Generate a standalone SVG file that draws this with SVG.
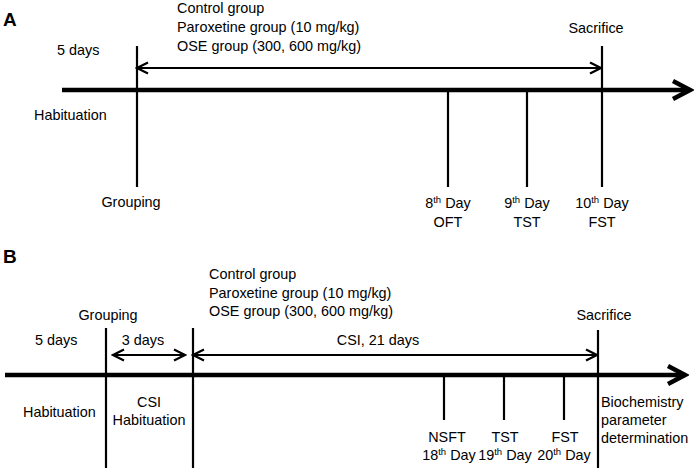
<svg xmlns="http://www.w3.org/2000/svg" width="694" height="472" viewBox="0 0 694 472">
<defs>
<style>
text{font-family:"Liberation Sans",Arial,sans-serif;font-size:14.4px;fill:#000}
.lbl{font-weight:bold;font-size:19px}
.m{text-anchor:middle}
.axis{stroke:#000;stroke-width:4.5;fill:none}
.tick{stroke:#000;stroke-width:2.2;fill:none}
.span{stroke:#000;stroke-width:2.2;fill:none}
.sup{font-size:9.5px}
</style>
<marker id="ah" viewBox="0 0 14 14" refX="12" refY="7" markerWidth="14" markerHeight="14" markerUnits="userSpaceOnUse" orient="auto-start-reverse">
<path d="M1,1.5 L12,7 L1,12.5" fill="none" stroke="#000" stroke-width="2.2"/>
</marker>
<marker id="big" viewBox="0 0 24 24" refX="20" refY="12" markerWidth="24" markerHeight="24" markerUnits="userSpaceOnUse" orient="auto">
<path d="M3,3 L20,12 L3,21" fill="none" stroke="#000" stroke-width="4.5"/>
</marker>
</defs>

<g id="panelA">
<text class="lbl" x="3" y="26">A</text>
<g id="connectorsA">
<line class="axis" x1="62" y1="90" x2="690" y2="90" marker-end="url(#big)"/>
<line class="span" x1="137" y1="68" x2="601" y2="68" marker-start="url(#ah)" marker-end="url(#ah)"/>
<line class="tick" x1="137" y1="46" x2="137" y2="187"/>
<line class="tick" x1="602" y1="46" x2="602" y2="187"/>
<line class="tick" x1="448" y1="90" x2="448" y2="187"/>
<line class="tick" x1="527" y1="90" x2="527" y2="187"/>
</g>
<g id="A-groups">
<text x="177" y="13">Control group</text>
<text x="177" y="32">Paroxetine group (10 mg/kg)</text>
<text x="177" y="51">OSE group (300, 600 mg/kg)</text>
</g>
<g id="A-habituation"><text x="57" y="55">5 days</text><text x="34" y="120">Habituation</text></g>
<g id="A-grouping"><text class="m" x="131" y="207">Grouping</text></g>
<g id="A-sacrifice"><text class="m" x="596" y="33">Sacrifice</text></g>
<g id="A-day8"><text class="m" x="448" y="208">8<tspan class="sup" dy="-5">th</tspan><tspan dy="5"> Day</tspan></text><text class="m" x="448" y="227">OFT</text></g>
<g id="A-day9"><text class="m" x="527" y="208">9<tspan class="sup" dy="-5">th</tspan><tspan dy="5"> Day</tspan></text><text class="m" x="527" y="227">TST</text></g>
<g id="A-day10"><text class="m" x="602" y="208">10<tspan class="sup" dy="-5">th</tspan><tspan dy="5"> Day</tspan></text><text class="m" x="602" y="227">FST</text></g>
</g>

<g id="panelB">
<text class="lbl" x="3" y="263">B</text>
<g id="connectorsB">
<line class="axis" x1="5" y1="375" x2="685" y2="375" marker-end="url(#big)"/>
<line class="span" x1="113" y1="355" x2="185" y2="355" marker-start="url(#ah)" marker-end="url(#ah)"/>
<line class="span" x1="193" y1="355" x2="597" y2="355" marker-start="url(#ah)" marker-end="url(#ah)"/>
<line class="tick" x1="106" y1="328" x2="106" y2="468"/>
<line class="tick" x1="193" y1="328" x2="193" y2="468"/>
<line class="tick" x1="598" y1="330" x2="598" y2="468"/>
<line class="tick" x1="444" y1="375" x2="444" y2="420"/>
<line class="tick" x1="504" y1="375" x2="504" y2="420"/>
<line class="tick" x1="564" y1="375" x2="564" y2="420"/>
</g>
<g id="B-groups">
<text x="209" y="279">Control group</text>
<text x="209" y="298">Paroxetine group (10 mg/kg)</text>
<text x="209" y="316">OSE group (300, 600 mg/kg)</text>
</g>
<g id="B-habituation"><text x="35" y="345">5 days</text><text x="23" y="417">Habituation</text></g>
<g id="B-grouping"><text class="m" x="108" y="320">Grouping</text></g>
<g id="B-csi-hab"><text class="m" x="143" y="345">3 days</text><text class="m" x="149" y="407">CSI</text><text class="m" x="149" y="425">Habituation</text></g>
<g id="B-csi"><text class="m" x="378" y="345">CSI, 21 days</text></g>
<g id="B-sacrifice"><text class="m" x="604" y="320">Sacrifice</text>
<text x="601" y="407">Biochemistry</text><text x="601" y="425">parameter</text><text x="601" y="443">determination</text></g>
<g id="B-day18"><text class="m" x="447" y="442">NSFT</text><text class="m" x="449" y="460">18<tspan class="sup" dy="-5">th</tspan><tspan dy="5"> Day</tspan></text></g>
<g id="B-day19"><text class="m" x="505" y="442">TST</text><text class="m" x="505" y="460">19<tspan class="sup" dy="-5">th</tspan><tspan dy="5"> Day</tspan></text></g>
<g id="B-day20"><text class="m" x="565" y="442">FST</text><text class="m" x="564" y="460">20<tspan class="sup" dy="-5">th</tspan><tspan dy="5"> Day</tspan></text></g>
</g>
</svg>
